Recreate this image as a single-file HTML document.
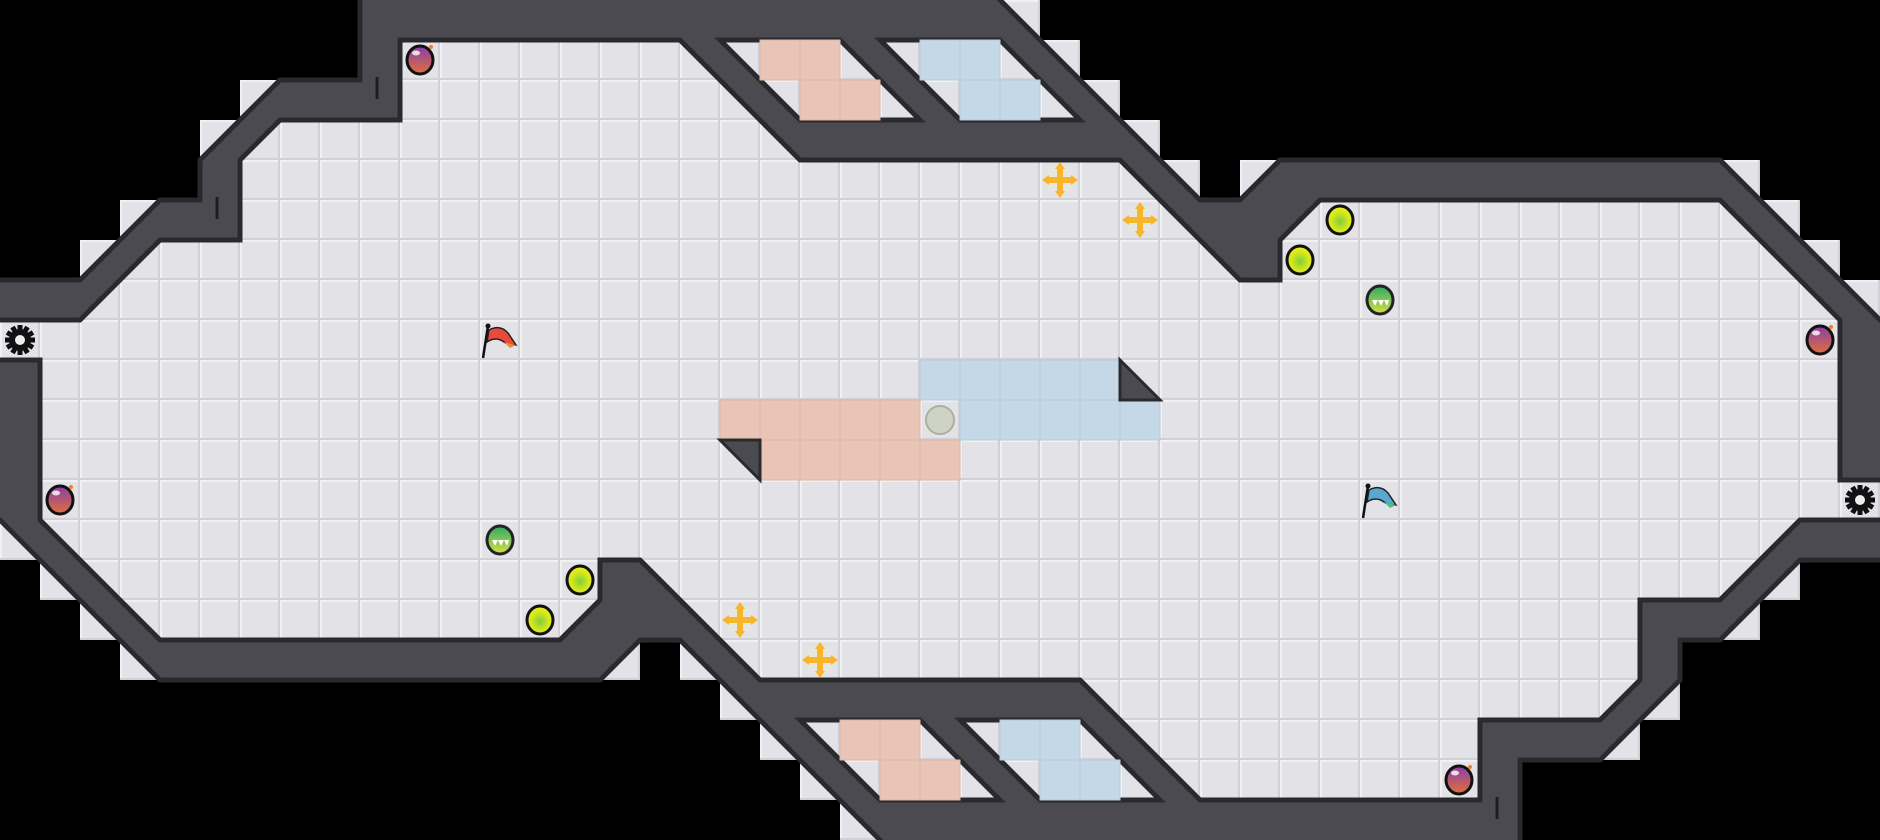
<!DOCTYPE html>
<html><head><meta charset="utf-8"><style>
html,body{margin:0;padding:0;background:#000;}
svg{display:block;}
</style></head><body>
<svg width="1880" height="840" viewBox="0 0 1880 840" xmlns="http://www.w3.org/2000/svg">
<defs>
<pattern id="tile" x="0" y="0" width="40" height="40" patternUnits="userSpaceOnUse">
<rect width="40" height="40" fill="#e3e3e7"/>
<rect x="0" y="0" width="40" height="2" fill="#f1f1f4"/>
<rect x="0" y="0" width="2" height="40" fill="#f1f1f4"/>
<rect x="0" y="38" width="40" height="2" fill="#d0d0d6"/>
<rect x="38" y="0" width="2" height="40" fill="#d0d0d6"/>
</pattern>
<radialGradient id="yel" cx="0.5" cy="0.55" r="0.5"><stop offset="0" stop-color="#7fcf3a"/><stop offset="0.7" stop-color="#d8e81a"/><stop offset="1" stop-color="#eaf020"/></radialGradient>
<linearGradient id="grn" x1="0" y1="0" x2="0" y2="1"><stop offset="0" stop-color="#2fa86a"/><stop offset="1" stop-color="#d8e040"/></linearGradient>
<linearGradient id="bomb" x1="0" y1="0" x2="0" y2="1"><stop offset="0" stop-color="#8a3fa8"/><stop offset="1" stop-color="#e0703a"/></linearGradient>
<g id="bombI"><ellipse cx="0" cy="0" rx="13" ry="14" fill="url(#bomb)" stroke="#111" stroke-width="3"/><ellipse cx="-4" cy="-7" rx="4" ry="2.5" fill="#fff" opacity="0.8"/><circle cx="11" cy="-13" r="2" fill="#f08020"/></g>
<g id="yelI"><ellipse cx="0" cy="0" rx="13" ry="14" fill="url(#yel)" stroke="#111" stroke-width="3"/></g>
<g id="grnI"><ellipse cx="0" cy="0" rx="13" ry="14" fill="url(#grn)" stroke="#222" stroke-width="3"/><path d="M-8,0 L-5,6 L-2,0 L1,6 L4,0 L7,6 L9,0" fill="#fff"/></g>
<g id="crossI"><circle r="15" fill="#e9e6e0" opacity="0.8"/><path d="M-3,-11 L3,-11 L3,-3 L11,-3 L11,3 L3,3 L3,11 L-3,11 L-3,3 L-11,3 L-11,-3 L-3,-3Z" fill="#f7b52a"/><path d="M0,-18 L-5,-11 L5,-11Z M0,18 L-5,11 L5,11Z M-18,0 L-11,-5 L-11,5Z M18,0 L11,-5 L11,5Z" fill="#f7b52a"/></g>
<g id="gearI"><circle r="11" fill="#111"/><g fill="#111"><rect x="-2.5" y="-15" width="5" height="30"/><rect x="-15" y="-2.5" width="30" height="5"/><rect x="-2.5" y="-15" width="5" height="30" transform="rotate(30)"/><rect x="-2.5" y="-15" width="5" height="30" transform="rotate(60)"/><rect x="-2.5" y="-15" width="5" height="30" transform="rotate(120)"/><rect x="-2.5" y="-15" width="5" height="30" transform="rotate(150)"/></g><circle r="5" fill="#eee"/></g>
</defs>
<rect width="1880" height="840" fill="#000"/>
<!-- floor spans -->
<g fill="url(#tile)">
<rect x="360" y="0" width="680" height="40"/>
<rect x="360" y="40" width="720" height="40"/>
<rect x="240" y="80" width="880" height="40"/>
<rect x="200" y="120" width="960" height="40"/>
<rect x="200" y="160" width="1000" height="40"/>
<rect x="1240" y="160" width="520" height="40"/>
<rect x="120" y="200" width="1680" height="40"/>
<rect x="80" y="240" width="1760" height="40"/>
<rect x="0" y="280" width="1880" height="280"/>
<rect x="40" y="560" width="1760" height="40"/>
<rect x="80" y="600" width="1680" height="40"/>
<rect x="120" y="640" width="520" height="40"/>
<rect x="680" y="640" width="1000" height="40"/>
<rect x="720" y="680" width="960" height="40"/>
<rect x="760" y="720" width="880" height="40"/>
<rect x="800" y="760" width="720" height="40"/>
<rect x="840" y="800" width="680" height="40"/>
</g>
<!-- walls -->
<path d="M-10,280 L80,280 L160,200 L200,200 L200,160 L280,80 L360,80 L360,-10 L990,-10 L1200,200 L1240,200 L1280,160 L1720,160 L1890,330 L1890,560 L1800,560 L1720,640 L1680,640 L1680,680 L1600,760 L1520,760 L1520,850 L890,850 L680,640 L640,640 L600,680 L160,680 L0,520 L-10,520 Z" fill="#4a4a50" stroke="#2a2a2e" stroke-width="5"/>
<!-- inner floor -->
<path d="M-10,320 L80,320 L160,240 L240,240 L240,160 L280,120 L400,120 L400,40 L680,40 L800,160 L1120,160 L1240,280 L1280,280 L1280,240 L1320,200 L1720,200 L1840,320 L1840,480 L1890,480 L1890,520 L1800,520 L1720,600 L1640,600 L1640,680 L1600,720 L1480,720 L1480,800 L1200,800 L1080,680 L760,680 L640,560 L600,560 L600,600 L560,640 L160,640 L40,520 L40,360 L-10,360 Z" fill="url(#tile)" stroke="#2a2a2e" stroke-width="5"/>
<g fill="url(#tile)" stroke="#2a2a2e" stroke-width="5">
<path d="M720,40 L840,40 L920,120 L800,120 Z"/>
<path d="M880,40 L1000,40 L1080,120 L960,120 Z"/>
<path d="M800,720 L920,720 L1000,800 L880,800 Z"/>
<path d="M960,720 L1080,720 L1160,800 L1040,800 Z"/>
</g>
<!-- colored tiles -->
<g fill="#e8c5b6" stroke="#dcb6a6" stroke-width="1">
<rect x="760" y="40" width="40" height="40"/><rect x="800" y="40" width="40" height="40"/>
<rect x="800" y="80" width="40" height="40"/><rect x="840" y="80" width="40" height="40"/>
<rect x="720" y="400" width="40" height="40"/><rect x="760" y="400" width="40" height="40"/><rect x="800" y="400" width="40" height="40"/><rect x="840" y="400" width="40" height="40"/><rect x="880" y="400" width="40" height="40"/>
<rect x="760" y="440" width="40" height="40"/><rect x="800" y="440" width="40" height="40"/><rect x="840" y="440" width="40" height="40"/><rect x="880" y="440" width="40" height="40"/><rect x="920" y="440" width="40" height="40"/>
<rect x="840" y="720" width="40" height="40"/><rect x="880" y="720" width="40" height="40"/>
<rect x="880" y="760" width="40" height="40"/><rect x="920" y="760" width="40" height="40"/>
</g>
<g fill="#c4d8e7" stroke="#b4cadb" stroke-width="1">
<rect x="920" y="40" width="40" height="40"/><rect x="960" y="40" width="40" height="40"/>
<rect x="960" y="80" width="40" height="40"/><rect x="1000" y="80" width="40" height="40"/>
<rect x="920" y="360" width="40" height="40"/><rect x="960" y="360" width="40" height="40"/><rect x="1000" y="360" width="40" height="40"/><rect x="1040" y="360" width="40" height="40"/><rect x="1080" y="360" width="40" height="40"/>
<rect x="960" y="400" width="40" height="40"/><rect x="1000" y="400" width="40" height="40"/><rect x="1040" y="400" width="40" height="40"/><rect x="1080" y="400" width="40" height="40"/><rect x="1120" y="400" width="40" height="40"/>
<rect x="1000" y="720" width="40" height="40"/><rect x="1040" y="720" width="40" height="40"/>
<rect x="1040" y="760" width="40" height="40"/><rect x="1080" y="760" width="40" height="40"/>
</g>
<!-- triangles -->
<path d="M1120,360 L1160,400 L1120,400 Z" fill="#4a4a50" stroke="#2a2a2e" stroke-width="3"/>
<path d="M720,440 L760,440 L760,480 Z" fill="#4a4a50" stroke="#2a2a2e" stroke-width="3"/>
<!-- slot marks -->
<g stroke="#1e1e22" stroke-width="3"><line x1="377" y1="77" x2="377" y2="99"/><line x1="217" y1="197" x2="217" y2="219"/><line x1="1497" y1="797" x2="1497" y2="819"/></g>
<!-- items -->
<use href="#bombI" x="420" y="60"/><use href="#bombI" x="1820" y="340"/><use href="#bombI" x="60" y="500"/><use href="#bombI" x="1459" y="780"/>
<use href="#grnI" x="500" y="540"/><use href="#grnI" x="1380" y="300"/>
<use href="#yelI" x="580" y="580"/><use href="#yelI" x="540" y="620"/><use href="#yelI" x="1340" y="220"/><use href="#yelI" x="1300" y="260"/>
<use href="#crossI" x="1060" y="180"/><use href="#crossI" x="1140" y="220"/><use href="#crossI" x="740" y="620"/><use href="#crossI" x="820" y="660"/>
<circle cx="940" cy="420" r="14" fill="#cfd3c4" stroke="#aab0a0" stroke-width="2"/>
<use href="#gearI" x="20" y="340"/><use href="#gearI" x="1860" y="500"/>
<!-- flags -->
<g><line x1="488" y1="326" x2="483" y2="358" stroke="#111" stroke-width="2.5"/><circle cx="488" cy="326" r="2.5" fill="#111"/><path d="M489,330 Q500,324 508,333 L516,345 Q508,345 504,342 Q496,336 487,342 Z" fill="#ea4a3a" stroke="#222" stroke-width="1.5"/><path d="M504,342 L516,345 L510,348 Z" fill="#f08a30"/></g>
<g><line x1="1368" y1="486" x2="1363" y2="518" stroke="#111" stroke-width="2.5"/><circle cx="1368" cy="486" r="2.5" fill="#111"/><path d="M1369,490 Q1380,484 1388,493 L1396,505 Q1388,505 1384,502 Q1376,496 1367,502 Z" fill="#5aa8d0" stroke="#222" stroke-width="1.5"/><path d="M1384,502 L1396,505 L1390,508 Z" fill="#50c080"/></g>
</svg>
</body></html>
